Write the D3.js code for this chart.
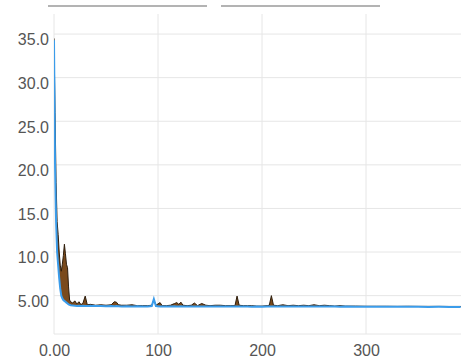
<!DOCTYPE html>
<html lang="en">
<head>
<meta charset="UTF-8">
<title>Loss chart</title>
<style>
  body { margin: 0; background: #fff; }
  svg { display: block; font-family: "Open Sans", "Noto Sans", sans-serif; }
  .tick text { fill: #555; font-size: 16px; }
</style>
</head>
<body>
<div id="chart"></div>
<script src="https://d3js.org/d3.v7.min.js"></script>
<script>
// epochs shared by both series
const epochs = [0,1,2,3,4,5,6,7,8,9,10,11,12,13,14,15,16,18,20,22,24,26,28,30,32,35,40,45,50,55,
  58,60,62,65,70,75,80,85,90,94,96,98,102,104,108,112,116,118,120,122,124,128,132,135,138,142,146,
  150,155,160,165,170,174,176,178,182,186,190,195,200,205,207,209,211,215,220,225,230,235,240,245,
  250,255,260,265,270,275,280,290,300,310,320,330,340,350,360,370,380,391];

// blue line
const blueValues = [34.3,20,13.5,10,8.5,7.0,5.8,5.0,4.7,4.5,4.4,4.3,4.2,4.1,4.0,3.95,3.9,3.88,3.85,3.82,3.85,3.8,3.84,3.82,3.8,3.84,
  3.8,3.82,3.78,3.8,3.78,3.8,3.79,3.76,3.78,3.76,3.78,3.75,3.76,3.8,4.6,3.8,3.76,3.76,3.74,3.76,3.78,3.76,3.76,3.78,3.76,
  3.74,3.76,3.76,3.74,3.76,3.76,3.74,3.76,3.74,3.75,3.74,3.74,3.76,3.76,3.74,3.76,3.73,3.74,3.73,3.74,3.74,3.76,3.76,3.74,3.76,
  3.74,3.76,3.74,3.75,3.74,3.76,3.74,3.75,3.74,3.74,3.73,3.74,3.73,3.72,3.73,3.72,3.72,3.72,3.72,3.71,3.72,3.71,3.71];

// brown band
const brownValues = [34.5,26,18,13.5,12,10,8.5,7.8,8.6,9.6,10.9,9.8,8.6,8.2,6.0,4.5,4.3,4.15,4.4,4.05,4.3,3.95,4.2,4.95,3.95,4.0,
  3.9,3.95,3.9,3.95,4.3,4.25,3.95,3.9,3.9,3.95,3.85,3.85,3.85,3.9,4.5,3.9,4.2,3.85,3.85,3.9,4.1,4.2,4.0,4.25,3.9,
  3.85,3.9,4.15,3.85,4.1,3.9,3.85,3.9,3.9,3.85,3.85,3.85,4.95,3.9,3.85,3.85,3.85,3.8,3.8,3.85,3.9,5.0,3.9,3.85,3.95,
  3.85,3.9,3.85,3.9,3.85,3.95,3.85,3.9,3.85,3.8,3.85,3.8,3.8,3.78,3.78,3.78,3.77,3.78,3.77,3.77,3.77,3.76,3.76];

const xTicks = [0, 100, 200, 300];
const yTicks = [5, 10, 15, 20, 25, 30, 35];

const width = 461, height = 362;
const m = { left: 54, right: 461, top: 14, bottom: 334 };

const svg = d3.select('#chart').append('svg')
  .attr('width', width)
  .attr('height', height);

const x = d3.scaleLinear().domain([0, 391.3]).range([m.left, m.right]);
const y = d3.scaleLinear().domain([0.6, 37.3]).range([m.bottom, m.top]);
const fmt = d3.format('.3r');

// legend placeholders
svg.append('line').attr('x1', 48).attr('x2', 207).attr('y1', 6).attr('y2', 6)
  .attr('stroke', '#9a9a9a').attr('stroke-width', 1.5);
svg.append('line').attr('x1', 221).attr('x2', 380).attr('y1', 6).attr('y2', 6)
  .attr('stroke', '#9a9a9a').attr('stroke-width', 1.5);

// grid
svg.append('g')
  .selectAll('line')
  .data(yTicks)
  .join('line')
  .attr('x1', m.left).attr('x2', m.right)
  .attr('y1', d => y(d)).attr('y2', d => y(d))
  .attr('stroke', '#e6e6e6');

svg.append('g')
  .selectAll('line')
  .data(xTicks)
  .join('line')
  .attr('x1', d => x(d)).attr('x2', d => x(d))
  .attr('y1', m.top).attr('y2', m.bottom)
  .attr('stroke', '#e6e6e6');

svg.append('line').attr('x1', m.left).attr('x2', m.right).attr('y1', m.bottom).attr('y2', m.bottom)
  .attr('stroke', '#e6e6e6');

// axes (labels only)
const xAxis = svg.append('g')
  .attr('transform', `translate(0,${m.bottom})`)
  .call(d3.axisBottom(x).tickValues(xTicks).tickFormat(fmt).tickSize(0).tickPadding(11));
xAxis.select('.domain').remove();

const yAxis = svg.append('g')
  .attr('transform', `translate(${m.left},0)`)
  .call(d3.axisLeft(y).tickValues(yTicks).tickFormat(fmt).tickSize(0).tickPadding(5));
yAxis.select('.domain').remove();
yAxis.selectAll('text').attr('dy', '0.68em');

const pts = epochs.map((e, i) => ({ e, b: blueValues[i], r: brownValues[i] }));

svg.append('clipPath').attr('id', 'clip')
  .append('rect').attr('x', m.left).attr('y', m.top)
  .attr('width', m.right - m.left).attr('height', m.bottom - m.top);

const plot = svg.append('g').attr('clip-path', 'url(#clip)');

plot.append('path')
  .datum(pts)
  .attr('fill', '#7a4a1c')
  .attr('d', d3.area().x(d => x(d.e)).y0(d => y(d.b)).y1(d => y(d.r)));

plot.append('path')
  .datum(pts)
  .attr('fill', 'none')
  .attr('stroke', '#2e1d0c')
  .attr('stroke-width', 1)
  .attr('d', d3.line().x(d => x(d.e)).y(d => y(d.r)));

plot.append('path')
  .datum(pts)
  .attr('fill', 'none')
  .attr('stroke', '#3b9cea')
  .attr('stroke-width', 2)
  .attr('d', d3.line().x(d => x(d.e)).y(d => y(d.b)));
</script>
</body>
</html>
